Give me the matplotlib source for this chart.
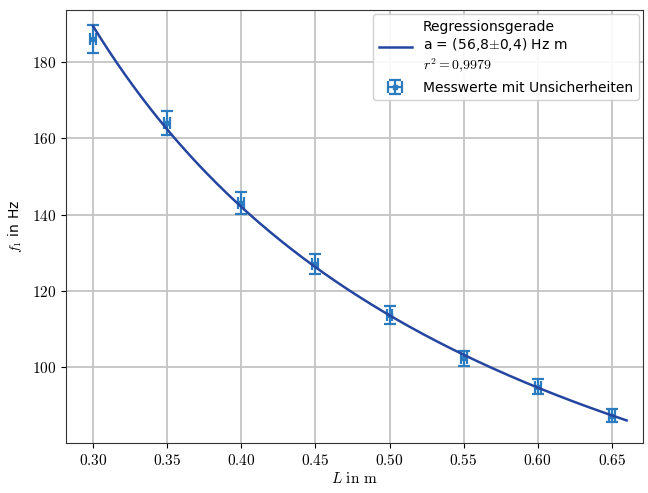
import numpy as np
import matplotlib.pyplot as plt
from matplotlib.ticker import FuncFormatter

plt.rcParams['mathtext.fontset'] = 'cm'
plt.rcParams['font.family'] = ['DejaVu Sans']

# Messwerte
L = [0.30, 0.35, 0.40, 0.45, 0.50, 0.55, 0.60, 0.65]
f1 = [186.0, 164.0, 143.1, 127.0, 113.6, 102.3, 94.9, 87.3]
f1_err = [3.7, 3.2, 2.9, 2.6, 2.4, 2.0, 1.9, 1.7]
L_err = [0.002] * 8

# Regressionsparameter f = a / L
a_fit = 56.8
L_fit_range = (0.30, 0.66)

fig = plt.figure(figsize=(6.48, 4.93), dpi=100)
ax = fig.add_axes([0.102, 0.101, 0.890, 0.879])

Lx = np.linspace(L_fit_range[0], L_fit_range[1], 200)
ax.plot(Lx, a_fit / Lx, color='#2546a0', lw=1.8,
        label='Regressionsgerade\na = (56,8$\\pm$0,4) Hz m\n$r^2 = 0{,}9979$', zorder=3)
ax.errorbar(L, f1, yerr=f1_err, xerr=L_err, fmt='s', ms=3, color='#2b7bc0',
            elinewidth=1.6, capsize=4.5, capthick=1.6,
            label='Messwerte mit Unsicherheiten', zorder=2)

ax.set_xlim(0.2818, 0.6709)
ax.set_ylim(80.1, 193.6)
ax.set_xticks([0.30, 0.35, 0.40, 0.45, 0.50, 0.55, 0.60, 0.65])
ax.set_yticks([100, 120, 140, 160, 180])
ax.xaxis.set_major_formatter(FuncFormatter(lambda v, p: '$%.2f$' % v))
ax.yaxis.set_major_formatter(FuncFormatter(lambda v, p: '$%d$' % v))
ax.tick_params(labelsize=11)
ax.grid(True, color='#c4c4c4', lw=1.3)
ax.set_axisbelow(True)
for s in ax.spines.values():
    s.set_color('#333333')

ax.set_xlabel(r'$L\ \mathrm{in\ m}$', fontsize=11, labelpad=2)
ax.set_ylabel(r'$f_1$ in Hz', fontsize=10, labelpad=6)

ax.legend(loc='upper right', fontsize=10, framealpha=0.9, edgecolor='#cccccc',
          borderaxespad=0.3, handlelength=2.4)

fig.savefig('out.png', dpi=100)
